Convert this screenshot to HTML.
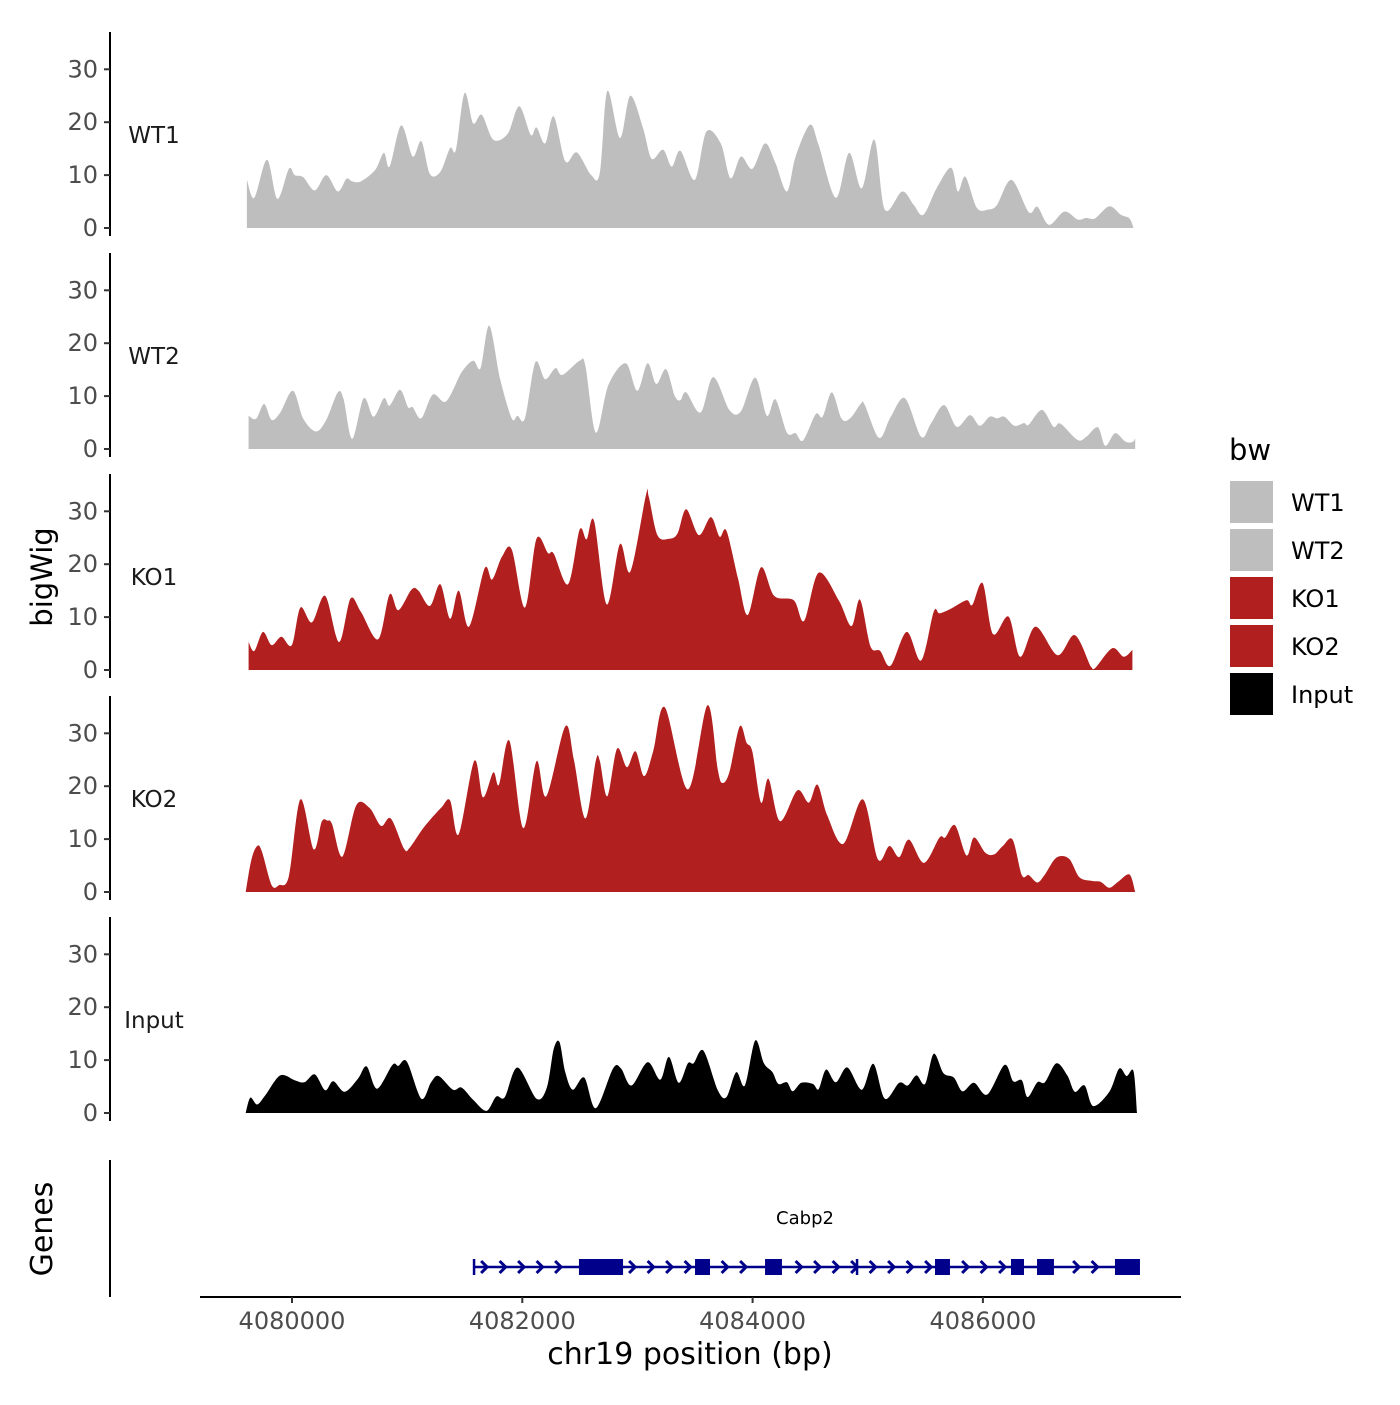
<!DOCTYPE html>
<html><head><meta charset="utf-8"><style>
body{margin:0;background:#fff;}
svg text{font-family:"DejaVu Sans","Liberation Sans",sans-serif;}
</style></head><body>
<svg id="chart" width="1400" height="1400" viewBox="0 0 1400 1400" xmlns="http://www.w3.org/2000/svg">
<rect width="1400" height="1400" fill="#fff"/>
<g id="tracks"></g>
<g id="genes"></g>
<g id="axes"></g>
<text x="0" y="0" transform="translate(52,577) rotate(-90)" text-anchor="middle" font-size="29" fill="#000">bigWig</text>
<text x="0" y="0" transform="translate(52,1229) rotate(-90)" text-anchor="middle" font-size="30" fill="#000">Genes</text>
<text x="690" y="1364" text-anchor="middle" font-size="30" fill="#000">chr19 position (bp)</text>
<g>
<text x="1229" y="460" font-size="29" fill="#000">bw</text>
<rect x="1230" y="481" width="43" height="42" fill="#bebebe"/>
<rect x="1230" y="529" width="43" height="42" fill="#bebebe"/>
<rect x="1230" y="577" width="43" height="42" fill="#b21f1f"/>
<rect x="1230" y="625" width="43" height="42" fill="#b21f1f"/>
<rect x="1230" y="673" width="43" height="42" fill="#000"/>
<text x="1291" y="511" font-size="24" fill="#000">WT1</text>
<text x="1291" y="559" font-size="24" fill="#000">WT2</text>
<text x="1291" y="607" font-size="24" fill="#000">KO1</text>
<text x="1291" y="655" font-size="24" fill="#000">KO2</text>
<text x="1291" y="703" font-size="24" fill="#000">Input</text>
</g>
</svg>
<script>
const NS = "http://www.w3.org/2000/svg";
const regionStart = 4079548;
const trackNames = ["WT1","WT2","KO1","KO2","Input"];
const trackColors = ["#bebebe","#bebebe","#b21f1f","#b21f1f","#000000"];
const yTicks = [0,10,20,30];
const xTicks = [4080000,4082000,4084000,4086000];
const wt1Pos = [60,125,235,325,425,475,550,650,750,850,925,975,1050,1175,1250,1300,1400,1500,1575,1650,1740,1825,1875,1950,2025,2100,2200,2325,2425,2525,2575,2650,2725,2825,2925,3050,3125,3190,3300,3390,3500,3575,3675,3750,3825,3950,4050,4175,4260,4350,4450,4560,4650,4750,4825,4950,5025,5175,5290,5400,5510,5600,5750,5850,5935,6050,6175,6235,6300,6400,6500,6575,6700,6850,6925,7025,7160,7275,7350,7425,7550,7650,7725,7760];
const wt1Val = [9.1,5.7,12.9,5.5,11.2,10,9.6,7.1,10,6.9,9.3,8.8,8.8,11,14.2,11.6,19.4,13.5,16.4,10.2,10.6,15.1,14.8,25.5,19.8,21.4,16.7,17.8,23,17.6,19,16,21.1,12.6,14.3,10,10.4,25.9,17,25,18.9,13.1,14.8,11.6,14.6,9.1,18.2,16,9.4,13.5,11.2,16,12.3,6.9,13.5,19.5,15.7,5.7,14.2,7.5,16.7,3.5,6.9,4.4,2.5,7.5,11.4,6.9,9.7,3.8,3.5,4.4,9.1,3,4,0.6,3.1,1.6,1.9,1.8,4.1,2.5,1.8,0];
const wt2Pos = [75,140,210,275,350,460,550,660,750,850,900,975,1075,1160,1250,1300,1390,1460,1500,1575,1675,1790,1925,2025,2090,2165,2260,2360,2410,2475,2565,2650,2740,2800,2950,3000,3090,3200,3350,3450,3540,3615,3700,3775,3825,3875,4000,4110,4250,4350,4475,4575,4650,4750,4825,4890,5000,5060,5140,5225,5300,5390,5425,5550,5650,5775,5915,6000,6115,6225,6340,6425,6510,6575,6640,6725,6810,6850,6965,7065,7125,7275,7350,7450,7515,7600,7690,7750,7775];
const wt2Val = [6.3,5.7,8.5,5.5,6.9,11,5.7,3.3,5.5,10.7,9.4,1.9,9.6,6.1,9.6,8.2,11.2,7.9,7.9,5.8,10.3,9,14.5,16.7,15.3,23.3,13.2,5.8,6.3,5.8,16.4,13.2,15.3,14,16.7,15.7,3.1,12.1,16.2,11,16.2,12.3,15.1,10.1,9.2,10.7,6.9,13.6,7.4,7.1,13.5,6.3,9.4,3.1,3,1.6,6.6,6.1,10.7,5.7,5.8,8.5,8.4,2.1,6,9.6,2.3,4.8,8.3,4.2,6.4,4.4,6.1,5.8,6.1,4.4,4.9,4.6,7.4,4.2,4.8,1.7,2.3,4.1,0.6,3,1.4,1.3,2];
const ko1Pos = [75,125,200,275,360,450,525,625,740,860,960,1050,1200,1300,1375,1490,1550,1650,1740,1825,1900,1990,2125,2190,2275,2360,2475,2575,2675,2725,2850,2950,3010,3075,3185,3300,3390,3525,3550,3625,3725,3800,3875,3985,4090,4165,4225,4325,4410,4525,4640,4810,4900,5025,5200,5310,5385,5475,5560,5650,5790,5915,6025,6075,6175,6310,6360,6450,6540,6675,6775,6910,7100,7250,7390,7425,7575,7675,7750];
const ko1Val = [5.3,3.6,7.2,4.7,6.3,4.7,11.8,9,14,5.3,13.5,11,5.8,14.3,11.3,15.2,15,12.1,16.2,9.7,15,8.2,19.2,17.1,21.4,22.8,11.8,24.8,22.1,22,16.2,26.5,24.7,28.2,12.4,23.8,18.6,33,32.8,25.5,24.8,25.8,30.4,25.5,28.9,25.2,26.3,17.3,10.4,19.4,14,13.2,9.3,18.4,13.2,8.3,13.3,4.5,3.6,0.8,7.2,1.8,11,10.7,11.6,13.2,12.3,16.4,6.8,10.1,2.5,8.2,2.8,6.6,0.6,0.3,4.1,2.5,3.8];
const ko2Pos = [50,100,150,190,275,340,425,525,640,710,760,800,890,1010,1125,1225,1310,1425,1475,1600,1750,1825,1900,2035,2110,2200,2250,2340,2460,2575,2660,2825,2900,3000,3090,3125,3190,3275,3360,3435,3510,3590,3690,3890,4060,4150,4190,4250,4340,4400,4450,4525,4590,4690,4840,4940,5015,5100,5240,5410,5540,5640,5725,5810,5940,6075,6125,6210,6310,6375,6475,6550,6625,6710,6790,6850,6925,6990,7090,7200,7290,7400,7475,7550,7625,7725,7775];
const ko2Val = [0,6.2,8.7,7.7,1.3,1.3,3,17.5,8.1,13.3,13.5,12.8,6.7,16.4,15.9,12.5,13.9,8.2,8.4,12.3,16,17.3,10.9,24.8,17.9,22.6,20.3,28.6,12.1,24.7,18.1,31.3,25,13.9,24.8,24.8,18.1,27.1,23.6,26.6,21.9,26.7,34.9,19.4,35.3,23.1,20.6,22.6,31.3,28.2,26.5,16.9,21.4,13.4,19.2,16.9,20.3,14.5,9.1,17.5,6.2,8.7,6.6,9.9,5.5,10.3,10.3,12.6,6.9,10.3,7.4,7.1,8.7,9.9,3.2,3.2,1.8,3.3,6.5,6.3,2.8,2.1,1.9,0.8,1.9,3.3,0];
const inputPos = [50,90,150,225,350,475,560,650,740,810,910,1025,1100,1190,1325,1375,1450,1575,1660,1725,1850,1925,2025,2140,2225,2300,2410,2575,2665,2725,2775,2825,2890,2990,3090,3240,3310,3400,3540,3650,3725,3810,3890,3940,4025,4150,4225,4310,4385,4475,4550,4625,4675,4750,4800,4875,4975,5025,5090,5175,5275,5400,5500,5600,5725,5800,5875,5950,6025,6110,6200,6275,6375,6490,6640,6715,6790,6840,6925,6990,7090,7185,7250,7335,7410,7550,7635,7700,7760,7790];
const inputVal = [0,2.9,1.6,3.5,7.1,6.2,5.8,7.3,4.3,6,4,6.5,8.8,4.6,9.1,8.9,9.7,2.7,5.8,7,4.4,4.8,2.5,0.4,3.1,3,8.6,2.7,4.8,12.1,13.4,7.7,4.4,6.7,0.9,8.4,8.4,5.2,9.6,6.3,10.6,5.7,9.4,9.4,11.8,4.3,3,7.7,5.2,13.7,9.4,7.7,5.5,5.8,4.1,5.7,5.5,4.5,8.2,5.8,8.6,4.4,9.3,2.7,5.7,5.2,7.1,5.5,11.2,7.5,6.7,4.1,5.7,3.5,9.1,6,6.2,3,5.8,5.8,9.4,7.1,4,5.2,1.3,4,8.4,7,7.9,0];
const geneName = "Cabp2";
const geneStart = 4081581;
const geneEnd = 4087364;
const intronMarks = [4081581, 4084907];
const exonStarts = [4082492,4083500,4084108,4085584,4086244,4086470,4087147];
const exonEnds = [4082875,4083630,4084255,4085714,4086357,4086617,4087364];

const allPos = [wt1Pos,wt2Pos,ko1Pos,ko2Pos,inputPos];
const allVal = [wt1Val,wt2Val,ko1Val,ko2Val,inputVal];
const panelBase = [228,449,670,892,1113];
const unitPx = 5.29;
function xScale(bp){ return 292 + (bp - 4080000) * 0.11515; }
function yScale(v, p){ return panelBase[p] - v * unitPx; }
function mk(tag, attrs, parent){ const e=document.createElementNS(NS,tag); for(const k in attrs) e.setAttribute(k, attrs[k]); parent.appendChild(e); return e; }

const tracksG = document.getElementById('tracks');
const axesG = document.getElementById('axes');
for (let p=0;p<5;p++){
  const pos = allPos[p], val = allVal[p];
  const n = Math.min(pos.length, val.length);
  const pts = [];
  for (let i=0;i<n;i++) pts.push([xScale(regionStart+pos[i]), yScale(val[i],p)]);
  const base = yScale(0,p);
  let d = "M" + pts[0][0].toFixed(1) + "," + base + " L" + pts[0][0].toFixed(1) + "," + pts[0][1].toFixed(1);
  for (let i=0;i<n-1;i++){
    const p0 = pts[Math.max(0,i-1)], p1 = pts[i], p2 = pts[i+1], p3 = pts[Math.min(n-1,i+2)];
    const t = 0.16;
    const c1x = p1[0] + (p2[0]-p0[0])*t, c1y = Math.min(base, p1[1] + (p2[1]-p0[1])*t);
    const c2x = p2[0] - (p3[0]-p1[0])*t, c2y = Math.min(base, p2[1] - (p3[1]-p1[1])*t);
    d += ` C${c1x.toFixed(1)},${c1y.toFixed(1)} ${c2x.toFixed(1)},${c2y.toFixed(1)} ${p2[0].toFixed(1)},${p2[1].toFixed(1)}`;
  }
  d += " L" + pts[n-1][0].toFixed(1) + "," + base + " Z";
  const area = mk('path',{d:d, fill:trackColors[p]}, tracksG);
  
  
  const lbl = mk('text',{x:154, y:yScale(0,p)-85, 'text-anchor':'middle', 'font-size':23, fill:'#1a1a1a'}, tracksG);
  lbl.textContent = trackNames[p];
  
  
  const ax = mk('line',{x1:110, x2:110, y1:yScale(0,p)+8, y2:yScale(0,p)-196, stroke:'#000', 'stroke-width':2}, axesG);
  
  
  for (const t of yTicks){
    const y = yScale(t,p);
    const tk = mk('line',{x1:104, x2:110, y1:y, y2:y, stroke:'#333', 'stroke-width':2}, axesG);
    
    
    const tl = mk('text',{x:98, y:y+8, 'text-anchor':'end', 'font-size':24, fill:'#4d4d4d'}, axesG);
    tl.textContent = t;
    
    
  }
}
const gax = mk('line',{x1:110,x2:110,y1:1160,y2:1297,stroke:'#000','stroke-width':2}, axesG);


const xax = mk('line',{x1:200,x2:1181,y1:1297,y2:1297,stroke:'#000','stroke-width':2}, axesG);


for (const t of xTicks){
  const x = xScale(t);
  const tk = mk('line',{x1:x,x2:x,y1:1297,y2:1303,stroke:'#333','stroke-width':2}, axesG);
  
  
  const tl = mk('text',{x:x, y:1329, 'text-anchor':'middle', 'font-size':24, fill:'#4d4d4d'}, axesG);
  tl.textContent = t;
  
  
}
const gG = document.getElementById('genes');
const gy = 1267, navy = '#00008b';
const gl = mk('line',{x1:xScale(geneStart), x2:xScale(geneEnd), y1:gy, y2:gy, stroke:navy, 'stroke-width':2.5}, gG);


for (let c = xScale(geneStart)+10; c < xScale(geneEnd)-6; c += 18.5){
  let inside=false;
  for (let i=0;i<exonStarts.length;i++) if (c > xScale(exonStarts[i])-4 && c < xScale(exonEnds[i])+4) inside=true;
  if (inside) continue;
  const ch = mk('path',{d:`M${(c-3).toFixed(1)},${gy-6} L${(c+3).toFixed(1)},${gy} L${(c-3).toFixed(1)},${gy+6}`, fill:'none', stroke:navy, 'stroke-width':3}, gG);
  
  
}
for (const m of intronMarks){
  const tk = mk('line',{x1:xScale(m),x2:xScale(m),y1:gy-8,y2:gy+8,stroke:navy,'stroke-width':2.5}, gG);
  
  
}
for (let i=0;i<exonStarts.length;i++){
  const r = mk('rect',{x:xScale(exonStarts[i]), y:gy-8, width:xScale(exonEnds[i])-xScale(exonStarts[i]), height:16, fill:navy}, gG);
  
  
}
const gn = mk('text',{x:805, y:1224, 'text-anchor':'middle', 'font-size':18, fill:'#000'}, gG);
gn.textContent = geneName;


</script>
</body></html>
